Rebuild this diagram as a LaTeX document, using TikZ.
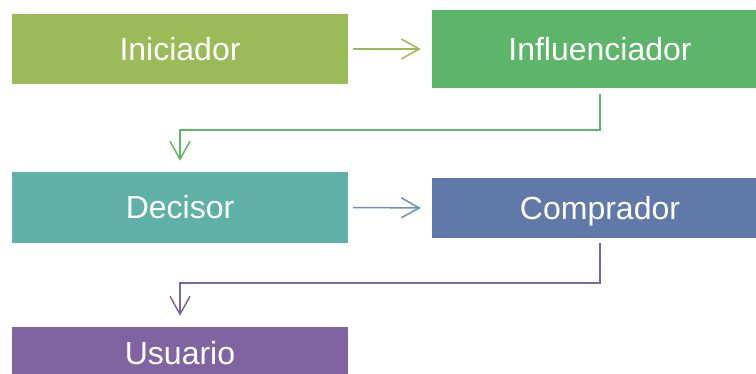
\documentclass[tikz,border=0pt]{standalone}
\usepackage{fontspec}
\setmainfont{Liberation Sans}
\usetikzlibrary{arrows.meta}
\definecolor{cIni}{HTML}{9BBB59}
\definecolor{cInf}{HTML}{5DB56A}
\definecolor{cDec}{HTML}{5FB0A6}
\definecolor{cCom}{HTML}{6179A8}
\definecolor{cUsu}{HTML}{8064A2}
\definecolor{cArr}{HTML}{6A93B5}
\tikzset{
  rolebox/.style={rectangle, inner sep=0pt, minimum width=336pt, text=white,
    text height=23pt, text depth=0pt,
    font=\fontsize{32}{38}\selectfont},
  conn/.style={line width=1.5pt, -{Straight Barb[length=18pt,width=20pt,line width=1.5pt]}},
}
\begin{document}
\begin{tikzpicture}[x=1pt,y=-1pt]
\useasboundingbox (0,0) rectangle (756,374);
\begin{scope}
\clip (0,0) rectangle (756,374);
\node[rolebox, fill=cIni, minimum height=70pt] (ini) at (180,49) {Iniciador};
\node[rolebox, fill=cInf, minimum height=78pt] (inf) at (600,49) {Influenciador};
\node[rolebox, fill=cDec, minimum height=71pt] (dec) at (180,207.5) {Decisor};
\node[rolebox, fill=cCom, minimum height=60pt] (com) at (600,208) {Comprador};
\node[rolebox, fill=cUsu, minimum height=53pt] (usu) at (180,353.5) {Usuario};
\end{scope}
\coordinate (m1) at (600,130);
\coordinate (m2) at (600,283);
\draw[conn, draw=cIni, shorten <=5pt, shorten >=11pt] (ini.east) -- (inf.west);
\draw[conn, draw=cInf, shorten >=11pt] ([yshift=-6pt]inf.south) -- (m1) -| (dec.north);
\draw[conn, draw=cArr, shorten <=5pt, shorten >=11pt] (dec.east) -- (com.west);
\draw[conn, draw=cUsu, shorten >=11pt] ([yshift=-5pt]com.south) -- (m2) -| (usu.north);
\end{tikzpicture}
\end{document}
